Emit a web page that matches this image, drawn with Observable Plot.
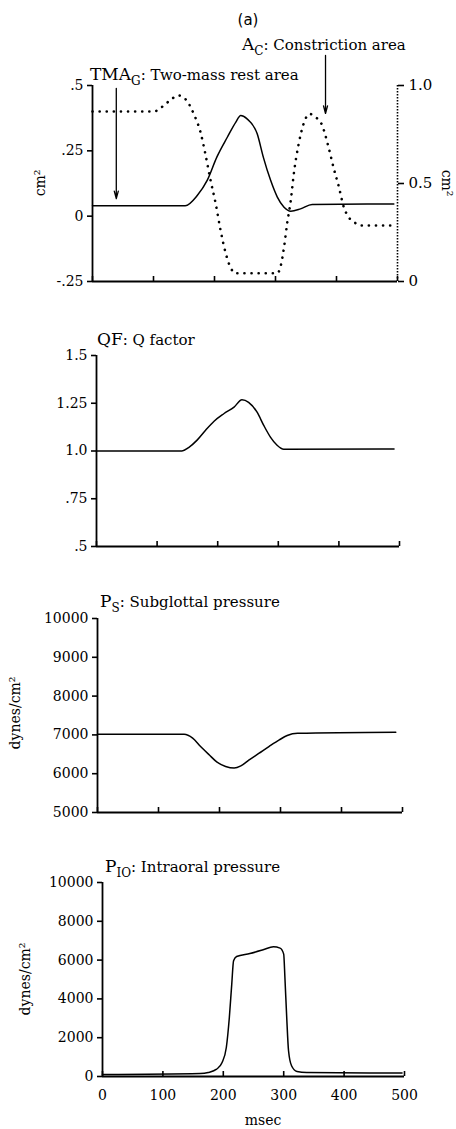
<!DOCTYPE html>
<html><head><meta charset="utf-8">
<script src="https://cdn.jsdelivr.net/npm/d3@7"></script>
<script src="https://cdn.jsdelivr.net/npm/@observablehq/plot@0.6"></script>
<style>
body{margin:0;background:#fff;}
#root{position:relative;width:456px;height:1129px;overflow:hidden;background:#fff;}
#root svg{position:absolute;left:0;}
</style></head><body><div id="root"></div>
<script>
// ---- data (time in msec) ----
const msecTicks = [0, 100, 200, 300, 400, 500];

// Panel (a): TMA_G two-mass rest area (solid, left axis, cm^2)
const glottalTime = [0,152,172,188,204,221,235,243,253,270,280,292,303,314,325,341,360,494];
const glottalArea = [0.04,0.04,0.08,0.137,0.227,0.302,0.36,0.385,0.373,0.315,0.226,0.137,0.073,0.034,0.019,0.028,0.045,0.047];
// A_C constriction area (dotted, right axis, cm^2)
const constrictionTime = [0,100,117,130,141,152,166,177,185,193,202,210,218,226,235,303,308,314,319,325,330,338,346,356,366,376,387,395,404,412,420,431,439,494];
const constrictionArea = [0.867,0.867,0.898,0.932,0.949,0.932,0.855,0.762,0.651,0.524,0.396,0.26,0.149,0.073,0.042,0.042,0.073,0.175,0.294,0.413,0.549,0.702,0.804,0.855,0.838,0.8,0.685,0.583,0.481,0.379,0.328,0.298,0.286,0.286];
const areaTicksLeft = [-0.25, 0, 0.25, 0.5];
const areaTickLabelsLeft = ["-.25", "0", ".25", ".5"];
const areaTicksRight = [0, 0.5, 1.0];
const areaTickLabelsRight = ["0", "0.5", "1.0"];
// annotation arrows (msec, cm^2 on left axis)
const arrowTime = [39, 382];
const arrowFrom = [0.489, 0.615];
const arrowTo = [0.067, 0.393];

// Panel QF
const qTime = [0,141,152,166,180,194,210,227,240,251,265,276,287,298,309,491];
const qFactor = [1.0,1.0,1.018,1.057,1.109,1.156,1.195,1.23,1.268,1.255,1.203,1.134,1.073,1.03,1.009,1.01];
const qTicks = [0.5, 0.75, 1.0, 1.25, 1.5];
const qTickLabels = [".5", ".75", "1.0", "1.25", "1.5"];

// Panel PS
const psTime = [0,142,156,169,183,196,210,224,235,248,265,281,298,311,328,489];
const psValues = [7015,7015,6915,6700,6487,6297,6187,6145,6200,6350,6530,6700,6872,6983,7040,7067];
const psTicks = [5000, 6000, 7000, 8000, 9000, 10000];

// Panel PIO
const pioTime = [0,162,175,189,198,205,210,214,217,222,244,266,283,294,300,302,305,308,313,322,338,496];
const pioValues = [100,150,206,380,722,1495,3041,4763,5964,6186,6340,6530,6686,6619,6309,5103,3041,1325,552,258,206,180];
const pioTicks = [0, 2000, 4000, 6000, 8000, 10000];

// ---- drawing ----
const root = document.getElementById("root");
const SERIF = "DejaVu Serif";
const CURVE = "monotone-x";
const zip = (xs, ys) => xs.map((x, i) => ({x, y: ys[i]}));

function panel({top, height, mt, mb, ml, mr, domain, ticks, labels, marks, xLabels}) {
  const frameH = height - mt - mb;
  const fmt = labels ? (d => labels[ticks.indexOf(d)]) : (d => String(d));
  const p = Plot.plot({
    width: 456, height,
    marginTop: mt, marginBottom: mb, marginLeft: ml, marginRight: mr,
    x: {domain: [0, 500]},
    y: {domain},
    style: {fontFamily: SERIF, fontSize: "14px", background: "transparent", color: "#000", overflow: "visible"},
    marks: [
      Plot.axisY({ticks, tickFormat: fmt, tickSize: 5, tickPadding: 4, strokeWidth: 1.6, fontSize: 14, label: null}),
      xLabels ? Plot.axisX({ticks: msecTicks, tickSize: 0, tickPadding: 14, fontSize: 14, label: null}) : Plot.axisX({ticks: [], label: null}),
      Plot.tickX(msecTicks, {x: d => d, insetTop: frameH - 5, strokeWidth: 1.6}),
      Plot.ruleX([0], {strokeWidth: 1.8}),
      Plot.ruleY([domain[0]], {strokeWidth: 1.8}),
      ...marks
    ]
  });
  p.style.top = top + "px";
  root.appendChild(p);
}

// Panel (a)
const rightMap = v => -0.25 + v * 0.75;
panel({
  top: 0, height: 300, mt: 85, mb: 19, ml: 92, mr: 59,
  domain: [-0.25, 0.5], ticks: areaTicksLeft, labels: areaTickLabelsLeft,
  marks: [
    Plot.ruleX([500], {strokeWidth: 1.6, strokeDasharray: "1.5,1.5"}),
    Plot.axisY({anchor: "right", ticks: areaTicksRight.map(rightMap),
      tickFormat: d => areaTickLabelsRight[areaTicksRight.map(rightMap).indexOf(d)],
      tickSize: 6, tickPadding: 5, fontSize: 15, strokeWidth: 1.6, label: null}),
    Plot.line(zip(glottalTime, glottalArea), {x: "x", y: "y", curve: CURVE, strokeWidth: 1.5}),
    Plot.line(zip(constrictionTime, constrictionArea), {x: "x", y: d => rightMap(d.y), curve: CURVE,
      strokeWidth: 2.6, strokeDasharray: "0.1,7", strokeLinecap: "round"}),
    Plot.arrow(arrowTime.map((t, i) => ({t, a: arrowFrom[i], b: arrowTo[i]})),
      {x1: "t", x2: "t", y1: "a", y2: "b", headLength: 9, headAngle: 30, strokeWidth: 1.3})
  ]
});

// Panel QF
panel({
  top: 300, height: 260, mt: 55, mb: 14, ml: 96, mr: 57,
  domain: [0.5, 1.5], ticks: qTicks, labels: qTickLabels,
  marks: [Plot.line(zip(qTime, qFactor), {x: "x", y: "y", curve: CURVE, strokeWidth: 1.5})]
});

// Panel PS
panel({
  top: 560, height: 265, mt: 58, mb: 13, ml: 97, mr: 54,
  domain: [5000, 10000], ticks: psTicks,
  marks: [Plot.line(zip(psTime, psValues), {x: "x", y: "y", curve: CURVE, strokeWidth: 1.5})]
});

// Panel PIO
panel({
  top: 825, height: 304, mt: 57, mb: 53, ml: 102, mr: 52,
  domain: [0, 10000], ticks: pioTicks, xLabels: true,
  marks: [Plot.line(zip(pioTime, pioValues), {x: "x", y: "y", curve: CURVE, strokeWidth: 1.5})]
});

// ---- text overlay: titles with subscripts, axis titles ----
const ov = d3.select(root).append("svg").attr("width", 456).attr("height", 1129).style("top", "0px");
ov.append("text").attr("x", 248).attr("y", 25).attr("text-anchor", "middle")
  .attr("font-family", "DejaVu Sans").attr("font-size", 15).text("(a)");

function title(x, y, main, sub, rest) {
  const t = ov.append("text").attr("x", x).attr("y", y).attr("font-family", SERIF);
  t.append("tspan").attr("font-size", 17).text(main);
  if (sub) t.append("tspan").attr("font-size", 12).attr("dy", 5).text(sub);
  t.append("tspan").attr("font-size", 15).attr("dy", sub ? -5 : 0).text(rest);
}
title(242, 50, "A", "C", ": Constriction area");
title(90, 80, "TMA", "G", ": Two-mass rest area");
title(97, 345, "QF", null, ": Q factor");
title(100, 607, "P", "S", ": Subglottal pressure");
title(105, 872, "P", "IO", ": Intraoral pressure");

function vlabel(x, y, txt, rot) {
  ov.append("text").attr("transform", `translate(${x},${y}) rotate(${rot})`)
    .attr("text-anchor", "middle").attr("dy", "0.35em")
    .attr("font-family", SERIF).attr("font-size", 14).text(txt);
}
vlabel(40, 183, "cm²", -90);
vlabel(447, 183, "cm²", 90);
vlabel(15, 713, "dynes/cm²", -90);
vlabel(25, 979, "dynes/cm²", -90);
ov.append("text").attr("x", 263).attr("y", 1125).attr("text-anchor", "middle")
  .attr("font-family", SERIF).attr("font-size", 14).text("msec");
</script>
</body></html>
